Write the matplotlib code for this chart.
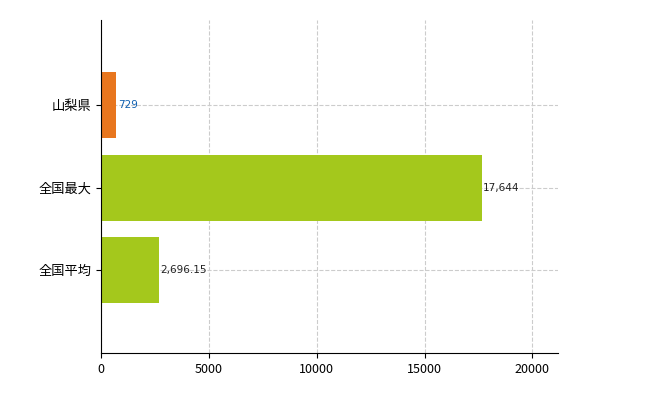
import matplotlib
matplotlib.use("Agg")
import matplotlib.pyplot as plt

plt.rcParams['font.family'] = ['Noto Sans CJK JP', 'DejaVu Sans']

categories = ["全国平均", "全国最大", "山梨県"]
values = [2696.15, 17644, 729]
labels = ["2,696.15", "17,644", "729"]
colors = ["#a4c81c", "#a4c81c", "#e8761e"]
label_colors = ["#222222", "#222222", "#1060b0"]

fig = plt.figure(figsize=(6.5, 4.0), dpi=100)
ax = fig.add_axes([0.155, 0.1175, 0.703, 0.8325])

y = range(len(categories))
ax.barh(y, values, height=0.8, color=colors, zorder=2)
for yi, v, lab, c in zip(y, values, labels, label_colors):
    ax.text(v + 60, yi, lab, va="center", ha="left", fontsize=7.5,
            color=c, family=["DejaVu Sans"], zorder=3)

ax.set_xlim(0, 21170)
ax.set_ylim(-1, 3.03)
ax.set_xticks([0, 5000, 10000, 15000, 20000])
ax.set_yticks(list(y))
ax.set_yticklabels(categories, fontsize=9.5)
ax.tick_params(axis="x", labelsize=9)
ax.grid(color="#cccccc", linestyle="--", linewidth=0.8, zorder=0)
ax.spines["top"].set_visible(False)
ax.spines["right"].set_visible(False)
for s in ("left", "bottom"):
    ax.spines[s].set_color("black")

fig.savefig("out.png", dpi=100)
